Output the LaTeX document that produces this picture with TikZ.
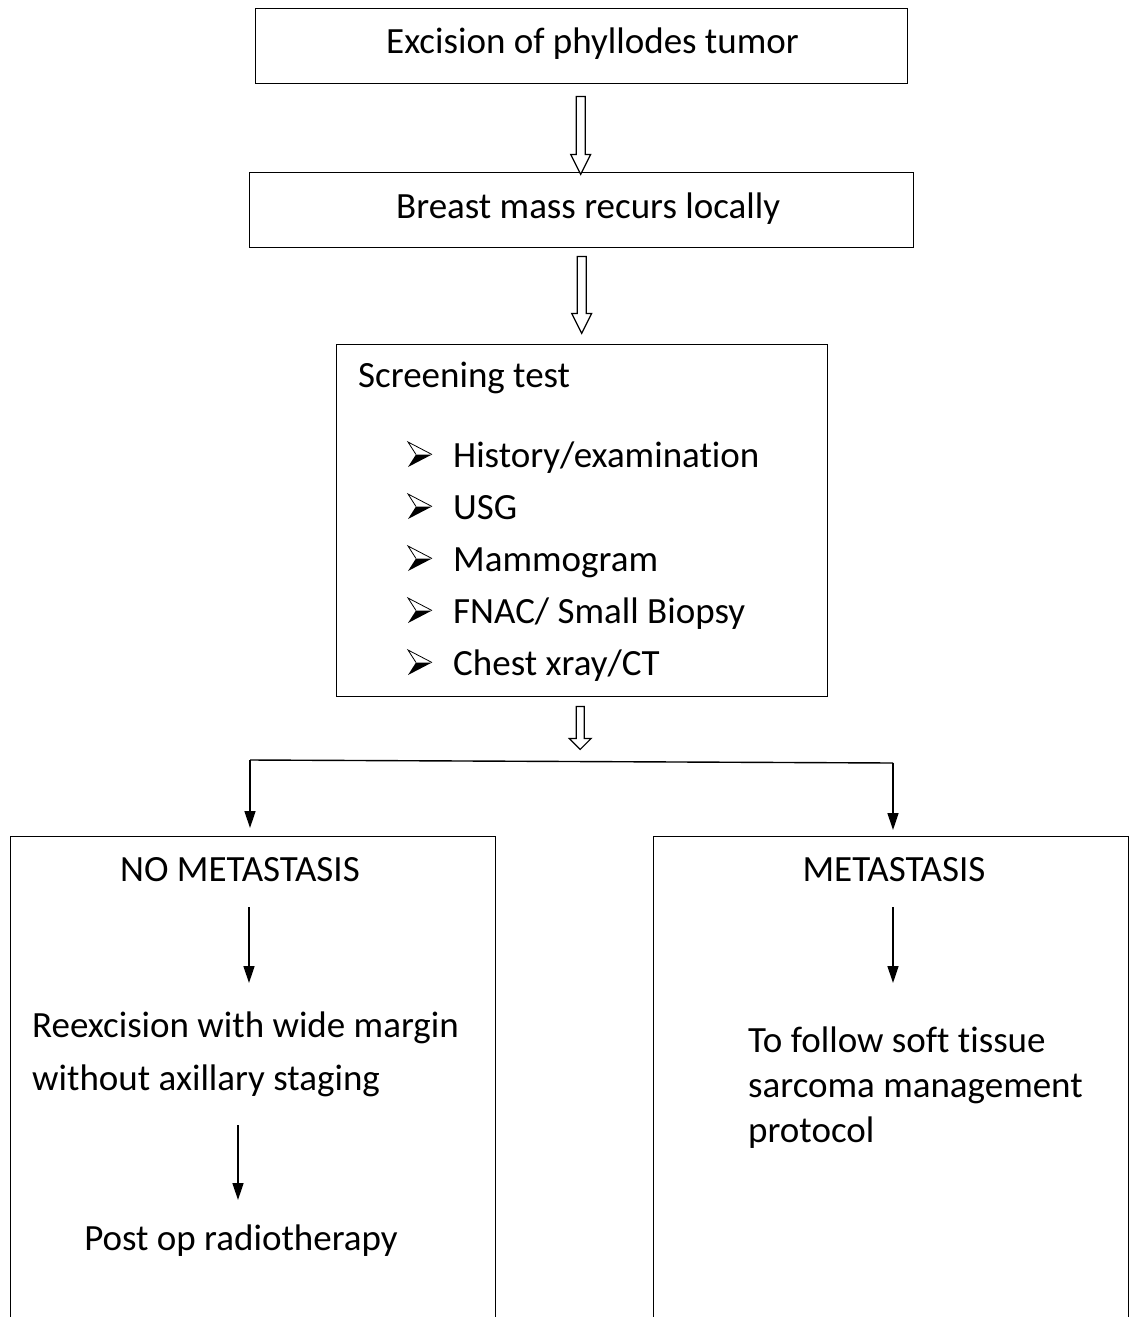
\documentclass[tikz,border=0pt]{standalone}
\usepackage{fontspec}
\setmainfont{Carlito}[Ligatures={NoCommon,NoContextual}]
\usetikzlibrary{arrows.meta,calc}
\begin{document}
\begin{tikzpicture}[x=1pt,y=-1pt,
  box/.style={draw,line width=1.4pt,inner sep=0pt,anchor=north west},
  txt/.style={inner sep=0pt,anchor=base west,align=left,font=\fontsize{37}{53}\selectfont},
  ctxt/.style={txt,anchor=base},
  arr/.style={line width=1.4pt,-{Triangle[length=17pt,width=11pt]}},
  pics/hollow/.style args={#1/#2/#3/#4}{code={
     \draw[line width=1.2pt,fill=white,line join=miter]
       (-#1,0) -- (#1,0) -- (#1,#4-#3) -- (#2,#4-#3) -- (0,#4) -- (-#2,#4-#3) -- (-#1,#4-#3) -- cycle;}},
  pics/bul/.style={code={
     \fill (8,-12.5) -- (24,-12.5) -- (0,0) -- cycle;
     \draw[line width=0.8pt,line join=miter] (8,-12.5) -- (0,-25) -- (24,-12.5);}}
]
\useasboundingbox (0,0) rectangle (1130,1317);
\clip (0,0) rectangle (1130,1317);

% boxes
\node[box,minimum width=652pt,minimum height=75pt] (b1) at (255,8) {};
\node[box,minimum width=664pt,minimum height=75pt] (b2) at (249,172) {};
\node[box,minimum width=491pt,minimum height=352pt] (b3) at (336,344) {};
\node[box,minimum width=485pt,minimum height=520pt] (lb) at (10,836) {};
\node[box,minimum width=475pt,minimum height=520pt] (rb) at (653,836) {};

% texts
\node[txt] (t1) at (386,53) {Excision of phyllodes tumor};
\node[txt] (t2) at (396,218) {Breast mass recurs locally};
\node[txt] (t3) at (358,387) {Screening test};
\node[txt] (i1) at (453,467) {History/examination};
\node[txt] (i2) at (453,519) {USG};
\node[txt] (i3) at (453,571) {Mammogram};
\node[txt] (i4) at (453,623) {FNAC/ Small Biopsy};
\node[txt] (i5) at (453,675) {Chest xray/CT};
\foreach \n in {i1,i2,i3,i4,i5}
  \pic at ($(\n.base west)+(-45,0)$) {bul};

\node[ctxt] (nm) at (240,881) {NO METASTASIS};
\node[ctxt] (me) at (894,881) {METASTASIS};
% base anchor of a multi-line node is the baseline of its last line
\node[txt] (re) at (32,1090) {Reexcision with wide margin\\without axillary staging};
\node[ctxt] (ps) at (241,1250) {Post op radiotherapy};
\node[txt,font=\fontsize{37}{45}\selectfont] (rt) at (748,1142) {To follow soft tissue\\sarcoma management\\protocol};

% hollow arrows
\pic at ($(b1.south)+(-1,12)$) {hollow=4.5/10/20/78};
\pic at ($(b2.south)+(0,8)$) {hollow=4.5/10/20/77};
\pic at ($(b3.south)+(-2,9)$) {hollow=4/11/11/43};

% branch
\coordinate (bl) at (250,760);
\coordinate (br) at (893,763);
\draw[line width=1.4pt] (bl) -- (br);
\draw[arr] (bl) -- ([yshift=8pt]bl |- lb.north);
\draw[arr] (br) -- ([yshift=6pt]br |- rb.north);

% inner arrows
\draw[arr] ($(nm.base)+(9,26)$) -- ++(0,76);
\draw[arr] ($(ps.base)+(-3,-125)$) -- ++(0,75);
\draw[arr] ($(me.base)+(-1,26)$) -- ++(0,76);
\end{tikzpicture}
\end{document}
